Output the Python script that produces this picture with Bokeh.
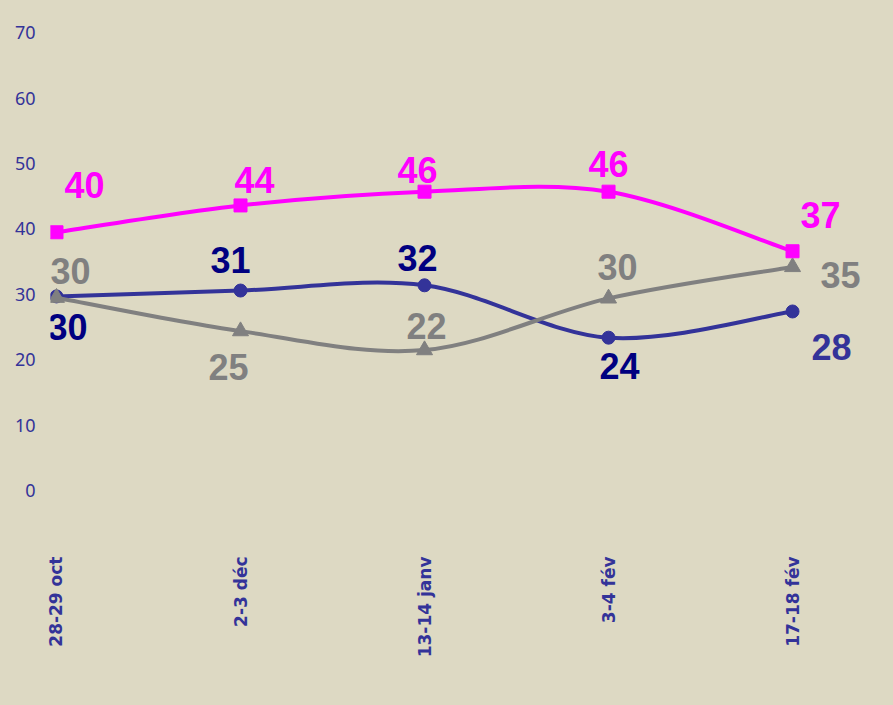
import math
import numpy as np
from bokeh.plotting import figure
from bokeh.models import Range1d, FixedTicker
from bokeh.core.properties import value
from bokeh.embed import file_html
from bokeh.resources import INLINE

# ---- data ----
categories = ["28-29 oct", "2-3 déc", "13-14 janv", "3-4 fév", "17-18 fév"]
magenta_vals = [39.5, 43.6, 45.7, 45.7, 36.6]
navy_vals = [29.7, 30.6, 31.4, 23.4, 27.4]
gray_vals = [29.5, 24.4, 21.5, 29.4, 34.2]
magenta_labels = ["40", "44", "46", "46", "37"]
navy_labels = ["30", "31", "32", "24", "28"]
gray_labels = ["30", "25", "22", "30", "35"]
y_ticks = [0, 10, 20, 30, 40, 50, 60, 70]

# ---- styles / label placement (screen pixels: dx right, dy up) ----
MAG = "#FF00FF"
NAVY_LINE = "#333399"
NAVY_TXT = "#000080"
GRAY = "#808080"
BG = "#DDD9C3"

mag_off = [(28, 47), (14, 25), (-7, 22), (0, 28), (28, 36)]
navy_off = [(11, -31), (-10, 31), (-7, 27), (11, -28), (39, -36)]
gray_off = [(14, 27), (-12, -36), (2, 24), (9, 31), (48, -8)]
navy_txt_colors = [NAVY_TXT, NAVY_TXT, NAVY_TXT, NAVY_TXT, NAVY_LINE]

xs = list(range(len(categories)))

p = figure(width=893, height=705,
           x_range=Range1d(-0.0326, 4.478), y_range=Range1d(-3, 72),
           output_backend="svg", toolbar_location=None,
           min_border_left=50, min_border_right=13,
           min_border_top=19, min_border_bottom=195,
           background_fill_color=BG,
           border_fill_color=BG,
           outline_line_color=None)
p.styles = {"background-color": BG}

p.xgrid.visible = False
p.ygrid.visible = False

p.yaxis.ticker = FixedTicker(ticks=y_ticks)
p.yaxis.axis_line_color = None
p.yaxis.major_tick_line_color = None
p.yaxis.minor_tick_line_color = None
p.yaxis.major_label_text_color = NAVY_LINE
p.yaxis.major_label_text_font = "Noto Sans"
p.yaxis.major_label_text_font_size = "18px"
p.yaxis.major_label_standoff = 9

p.xaxis.ticker = FixedTicker(ticks=xs)
p.xaxis.major_label_overrides = {i: c for i, c in zip(xs, categories)}
p.xaxis.axis_line_color = None
p.xaxis.major_tick_line_color = None
p.xaxis.minor_tick_line_color = None
p.xaxis.major_label_orientation = math.pi / 2
p.xaxis.major_label_text_color = NAVY_LINE
p.xaxis.major_label_text_font = "DejaVu Sans"
p.xaxis.major_label_text_font_style = "bold"
p.xaxis.major_label_text_font_size = "17px"
p.xaxis.major_label_standoff = 40


def smooth_segments(x, y):
    x = np.asarray(x, dtype=float)
    y = np.asarray(y, dtype=float)
    n = len(x)
    seg = dict(x0=[], y0=[], x1=[], y1=[], cx0=[], cy0=[], cx1=[], cy1=[])
    for i in range(n - 1):
        a = max(i - 1, 0)
        d = min(i + 2, n - 1)
        seg["x0"].append(x[i]); seg["y0"].append(y[i])
        seg["x1"].append(x[i + 1]); seg["y1"].append(y[i + 1])
        seg["cx0"].append(x[i] + (x[i + 1] - x[a]) / 6)
        seg["cy0"].append(y[i] + (y[i + 1] - y[a]) / 6)
        seg["cx1"].append(x[i + 1] - (x[d] - x[i]) / 6)
        seg["cy1"].append(y[i + 1] - (y[d] - y[i]) / 6)
    return seg


def draw_series(vals, color, marker, size):
    s = smooth_segments(xs, vals)
    p.bezier(line_color=color, line_width=4, line_cap="round", **s)
    p.scatter(xs, vals, marker=marker, size=size, fill_color=color, line_color=color)


draw_series(navy_vals, NAVY_LINE, "circle", 13)
draw_series(gray_vals, GRAY, "triangle", 16)
draw_series(magenta_vals, MAG, "square", 13)


def draw_labels(vals, labels, offs, colors):
    p.text(x=xs, y=vals, text=labels,
           x_offset=[o[0] for o in offs], y_offset=[-o[1] for o in offs],
           text_color=colors, text_font=value("Liberation Sans"),
           text_font_style="bold", text_font_size="36px",
           text_align="center", text_baseline="middle")


draw_labels(magenta_vals, magenta_labels, mag_off, [MAG] * 5)
draw_labels(navy_vals, navy_labels, navy_off, navy_txt_colors)
draw_labels(gray_vals, gray_labels, gray_off, [GRAY] * 5)

open("out.html", "w").write(file_html(p, INLINE))
